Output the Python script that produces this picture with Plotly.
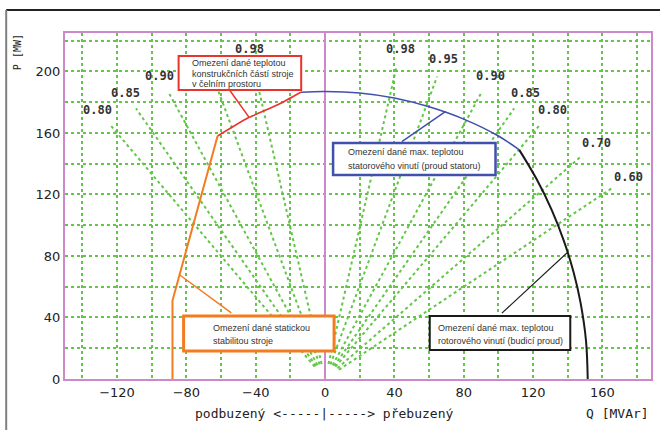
import math
import plotly.graph_objects as go

# ---------------- data ----------------
pf_left = [0.80, 0.85, 0.90, 0.95, 0.98]
pf_left_labels = ["0.80", "0.85", "0.90", "", "0.98"]
pf_right = [0.98, 0.95, 0.90, 0.85, 0.80, 0.70, 0.60]
pf_right_labels = ["0.98", "0.95", "0.90", "0.85", "0.80", "0.70", "0.60"]

# stator current limit (blue)
blue_q = [-14, 0, 20, 40, 60, 80, 100, 112]
blue_p = [186.5, 187, 186, 182.7, 177, 169, 158, 149]
# end-region heating limit (red)
red_q = [-62, -44, -27, -14]
red_p = [158, 170, 178.5, 186.5]
# steady-state stability limit (orange)
orange_q = [-88, -88, -62]
orange_p = [0, 51, 158]
# rotor (field) current limit (black)
black_q = [112, 122, 130.7, 137.7, 143.2, 147.3, 150.5, 151.5]
black_p = [149, 130, 110, 90, 70, 50, 25, 0]

# pointer lines of the callouts
red_ptr_q, red_ptr_p = [-55.3, -43.7], [188.3, 170]
blue_ptr_q, blue_ptr_p = [44.3, 69.6], [154.4, 174]
orange_ptr_q, orange_ptr_p = [-54.1, -84], [43, 67.8]
black_ptr_q, black_ptr_p = [102, 140], [42.8, 82.5]

x_ticks = [-120, -80, -40, 0, 40, 80, 120, 160]
y_ticks = [0, 40, 80, 120, 160, 200]

red_text = ["Omezení dané teplotou", "konstrukčních částí stroje", "v čelním prostoru"]
blue_text = ["Omezení dané max. teplotou", "statorového vinutí (proud statoru)"]
orange_text = ["Omezení dané statickou", "stabilitou stroje"]
black_text = ["Omezení dané max. teplotou", "rotorového vinutí (budicí proud)"]

# ---------------- styling ----------------
W, H = 662, 430
L, R, T, B = 65, 653, 33, 379
GREEN = "#62c646"
MAGENTA = "#cc8acc"
RED = "#e8342c"
ORANGE = "#f47b20"
BLUE = "#4050ad"
BLACK = "#1a1a1a"

def px(x):
    return (x - L) / (R - L)

def py(y):
    return (B - y) / (B - T)

fig = go.Figure()

# power factor rays
R0, R1, RL = 10, 207, 219
for side, pfs, labels in ((-1, pf_left, pf_left_labels), (1, pf_right, pf_right_labels)):
    for pf, lab in zip(pfs, labels):
        s = math.sin(math.acos(pf))
        fig.add_trace(go.Scatter(
            x=[side * R0 * s, side * R1 * s], y=[R0 * pf, R1 * pf],
            mode="lines", line=dict(color=GREEN, width=2, dash="dot"),
            hoverinfo="skip"))
        if lab:
            fig.add_annotation(x=side * RL * s, y=RL * pf, text="<b>" + lab + "</b>",
                               showarrow=False,
                               font=dict(family="DejaVu Sans Mono", size=12, color="#333333"),
                               xanchor="center", yanchor="middle")

# pointer lines
for qq, pp, col, w in ((red_ptr_q, red_ptr_p, RED, 1.5),
                       (blue_ptr_q, blue_ptr_p, BLUE, 1.5),
                       (orange_ptr_q, orange_ptr_p, ORANGE, 1.5),
                       (black_ptr_q, black_ptr_p, BLACK, 1.2)):
    fig.add_trace(go.Scatter(x=qq, y=pp, mode="lines", line=dict(color=col, width=w),
                             hoverinfo="skip"))

# limit curves
fig.add_trace(go.Scatter(x=blue_q, y=blue_p, mode="lines",
                         line=dict(color=BLUE, width=1.6, shape="spline")))
fig.add_trace(go.Scatter(x=red_q, y=red_p, mode="lines",
                         line=dict(color=RED, width=1.6, shape="spline", smoothing=0.6)))
fig.add_trace(go.Scatter(x=orange_q, y=orange_p, mode="lines",
                         line=dict(color=ORANGE, width=2)))
fig.add_trace(go.Scatter(x=black_q, y=black_p, mode="lines",
                         line=dict(color=BLACK, width=2, shape="spline")))

# callout boxes
boxes = [
    ((179, 56, 302, 90), RED, 2, red_text, 190, [63, 73.5, 84]),
    ((334, 143, 497, 175), BLUE, 2.5, blue_text, 347, [152, 166]),
    ((184, 316, 335, 351), ORANGE, 3, orange_text, 211, [328, 341]),
    ((431, 316, 572, 350), BLACK, 2, black_text, 437, [328, 341]),
]
shapes = []
for (x0, y0, x1, y1), col, lw, lines, tx, tys in boxes:
    shapes.append(dict(type="rect", xref="paper", yref="paper",
                       x0=px(x0), x1=px(x1), y0=py(y1), y1=py(y0),
                       fillcolor="white", line=dict(color=col, width=lw), layer="above"))
    for line_txt, ty in zip(lines, tys):
        fig.add_annotation(xref="paper", yref="paper", x=px(tx), y=py(ty), text=line_txt,
                           showarrow=False, xanchor="left", yanchor="middle",
                           font=dict(family="Liberation Sans", size=9, color="#333333"))

# outer frame lines
shapes.append(dict(type="line", xref="paper", yref="paper",
                   x0=px(6), x1=px(662), y0=py(10), y1=py(10),
                   line=dict(color="#222222", width=2), layer="above"))
shapes.append(dict(type="line", xref="paper", yref="paper",
                   x0=px(6), x1=px(6), y0=py(10), y1=py(430),
                   line=dict(color="#808080", width=2), layer="above"))

# axis titles
fig.add_annotation(xref="paper", yref="paper", x=px(18), y=py(52), text="P [MW]",
                   textangle=-90, showarrow=False, xanchor="center", yanchor="middle",
                   font=dict(family="DejaVu Sans Mono", size=10, color="#222222"))
fig.add_annotation(xref="paper", yref="paper", x=px(325), y=py(413),
                   text="podbuzený &lt;-----|-----&gt; přebuzený",
                   showarrow=False, xanchor="center", yanchor="middle",
                   font=dict(family="DejaVu Sans Mono", size=13, color="#222222"))
fig.add_annotation(xref="paper", yref="paper", x=px(619), y=py(413), text="Q [MVAr]",
                   showarrow=False, xanchor="center", yanchor="middle",
                   font=dict(family="DejaVu Sans Mono", size=13, color="#222222"))

fig.update_layout(
    width=W, height=H,
    margin=dict(l=L, r=W - R, t=T, b=H - B),
    paper_bgcolor="white", plot_bgcolor="white",
    showlegend=False,
    shapes=shapes,
    xaxis=dict(range=[-150, 188], tickvals=x_ticks, ticks="",
               showgrid=True, gridcolor=GREEN, gridwidth=2, griddash="dot",
               minor=dict(dtick=20, tick0=0, showgrid=True, gridcolor=GREEN,
                          gridwidth=2, griddash="dot"),
               zeroline=True, zerolinecolor=MAGENTA, zerolinewidth=2,
               showline=True, linecolor=MAGENTA, linewidth=2, mirror=True,
               tickfont=dict(family="DejaVu Sans", size=13, color="#222222"),
               fixedrange=True),
    yaxis=dict(range=[0, 225], tickvals=y_ticks, ticks="",
               showgrid=True, gridcolor=GREEN, gridwidth=2, griddash="dot",
               minor=dict(dtick=20, tick0=0, showgrid=True, gridcolor=GREEN,
                          gridwidth=2, griddash="dot"),
               zeroline=False,
               showline=True, linecolor=MAGENTA, linewidth=2, mirror=True,
               tickfont=dict(family="DejaVu Sans", size=13, color="#222222"),
               fixedrange=True),
)

fig.write_html("out.html", config={"displayModeBar": False},
               post_script="document.body.style.margin='0';document.body.style.padding='0';")
